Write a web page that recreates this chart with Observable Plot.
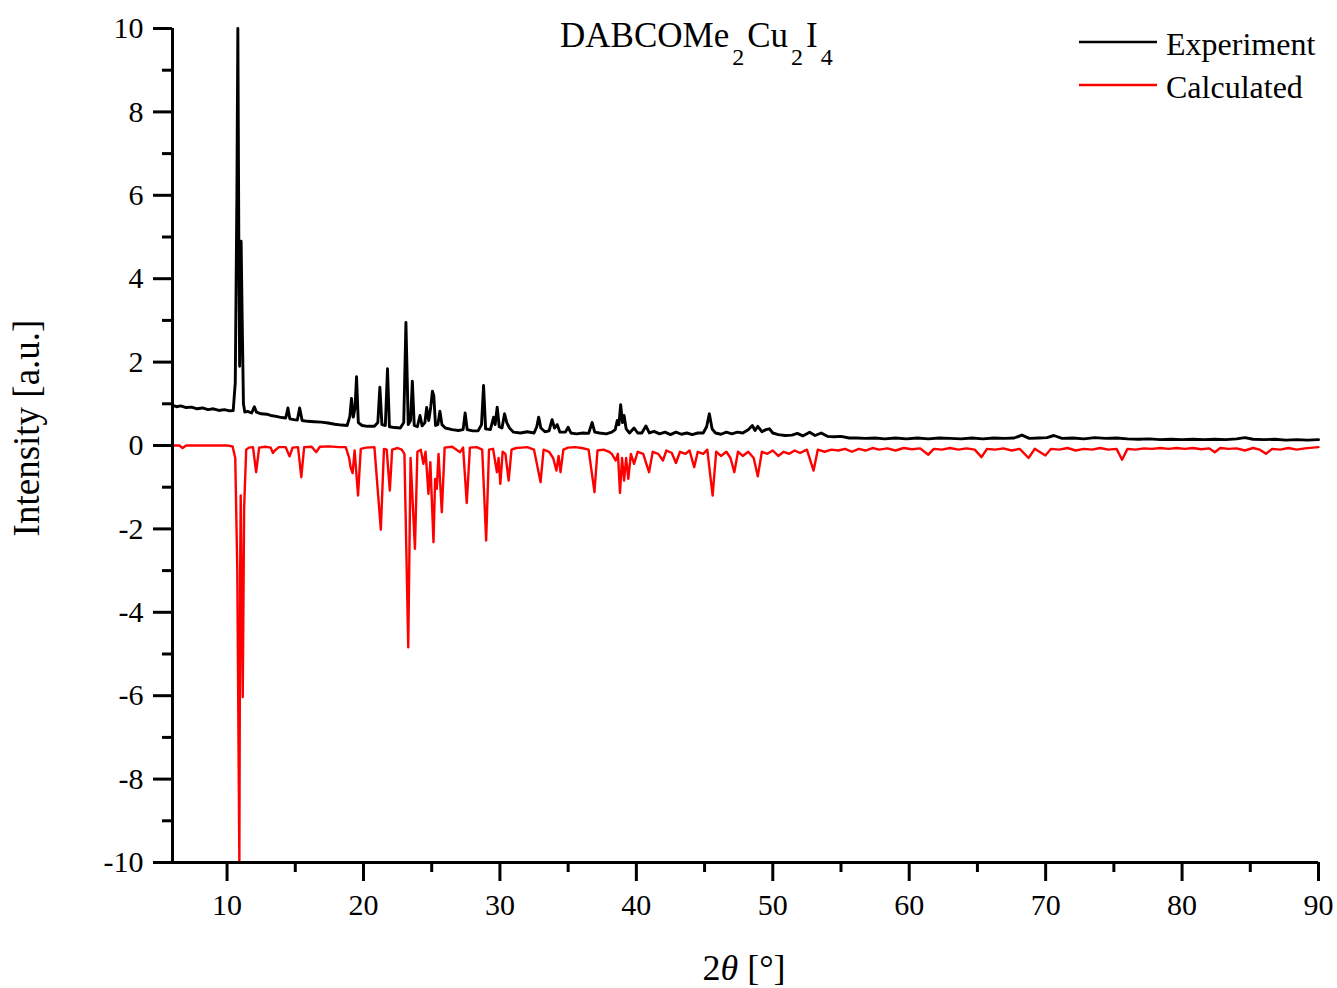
<!DOCTYPE html>
<html><head><meta charset="utf-8">
<script src="https://cdn.jsdelivr.net/npm/d3@7"></script>
<script src="https://cdn.jsdelivr.net/npm/@observablehq/plot@0.6"></script>
<style>
body{margin:0;background:#fff}
svg{font-family:"Liberation Serif","Times New Roman",serif}
</style>
</head><body><div id="chart"></div>
<script>
const experiment = [
[6.0,0.96],[6.3,0.93],[6.6,0.95],[7.0,0.91],[7.4,0.92],[7.8,0.88],[8.2,0.90],[8.6,0.86],[9.0,0.88],[9.4,0.84],
[9.8,0.86],[10.2,0.83],[10.45,0.84],[10.6,1.5],[10.72,6.0],[10.79,10.0],[10.86,5.0],[10.92,1.9],[10.98,3.5],[11.03,4.9],
[11.1,3.2],[11.2,1.0],[11.3,0.80],[11.5,0.82],[11.8,0.78],[12.0,0.93],[12.15,0.80],[12.5,0.76],[12.9,0.75],[13.2,0.72],
[13.6,0.70],[14.0,0.67],[14.3,0.66],[14.46,0.90],[14.6,0.64],[14.9,0.62],[15.15,0.61],[15.32,0.90],[15.5,0.60],[15.9,0.58],
[16.4,0.57],[16.9,0.56],[17.4,0.54],[17.9,0.51],[18.4,0.49],[18.8,0.48],[19.0,0.7],[19.12,1.13],[19.25,0.68],[19.38,0.9],
[19.49,1.65],[19.62,0.55],[19.9,0.48],[20.3,0.46],[20.8,0.46],[21.05,0.55],[21.2,1.40],[21.35,0.50],[21.6,0.48],[21.76,1.84],
[21.9,0.45],[22.3,0.43],[22.7,0.42],[22.95,0.55],[23.11,2.95],[23.28,0.5],[23.45,0.6],[23.58,1.54],[23.72,0.48],[23.95,0.45],
[24.14,0.72],[24.3,0.47],[24.5,0.55],[24.63,0.91],[24.78,0.6],[24.92,0.9],[25.05,1.30],[25.15,1.2],[25.28,0.48],[25.45,0.5],
[25.6,0.82],[25.75,0.5],[26.0,0.42],[26.5,0.38],[26.96,0.36],[27.3,0.38],[27.45,0.78],[27.6,0.38],[28.0,0.35],[28.4,0.35],
[28.65,0.5],[28.8,1.44],[28.95,0.4],[29.3,0.38],[29.54,0.68],[29.65,0.5],[29.8,0.92],[29.95,0.45],[30.15,0.42],[30.34,0.76],
[30.5,0.55],[30.7,0.42],[31.0,0.32],[31.5,0.30],[32.0,0.33],[32.5,0.30],[32.7,0.45],[32.84,0.68],[33.0,0.42],[33.3,0.33],
[33.6,0.35],[33.82,0.62],[34.0,0.42],[34.2,0.50],[34.4,0.32],[34.8,0.32],[35.0,0.44],[35.2,0.30],[35.6,0.28],[36.1,0.30],
[36.5,0.29],[36.76,0.55],[36.95,0.32],[37.3,0.30],[37.8,0.28],[38.2,0.32],[38.45,0.38],[38.6,0.60],[38.72,0.5],[38.85,0.98],
[38.98,0.55],[39.1,0.72],[39.25,0.40],[39.5,0.30],[39.83,0.42],[40.1,0.30],[40.4,0.30],[40.7,0.47],[40.95,0.30],[41.3,0.34],
[41.7,0.28],[42.1,0.32],[42.5,0.26],[42.9,0.32],[43.3,0.27],[43.7,0.30],[44.1,0.26],[44.5,0.30],[44.9,0.30],[45.15,0.45],
[45.35,0.76],[45.55,0.40],[45.8,0.30],[46.2,0.27],[46.6,0.32],[47.0,0.28],[47.4,0.32],[47.8,0.30],[48.2,0.38],[48.5,0.48],
[48.7,0.36],[48.9,0.46],[49.2,0.33],[49.5,0.38],[49.76,0.40],[50.0,0.30],[50.4,0.26],[50.9,0.24],[51.4,0.25],[51.8,0.29],
[52.2,0.23],[52.7,0.32],[53.1,0.24],[53.55,0.30],[54.0,0.22],[54.5,0.21],[55.0,0.22],[55.6,0.18],[56.1,0.18],[56.8,0.17],
[57.5,0.18],[58.2,0.16],[59.0,0.18],[59.8,0.16],[60.6,0.18],[61.4,0.16],[62.2,0.18],[63.0,0.17],[63.8,0.16],[64.6,0.18],
[65.4,0.16],[66.2,0.18],[67.0,0.17],[67.7,0.18],[68.26,0.25],[68.8,0.17],[69.5,0.18],[70.1,0.19],[70.6,0.24],[71.2,0.17],
[72.0,0.18],[72.8,0.16],[73.6,0.19],[74.4,0.17],[75.2,0.18],[76.0,0.16],[76.8,0.15],[77.6,0.16],[78.4,0.14],[79.2,0.15],
[80.0,0.14],[80.8,0.15],[81.6,0.14],[82.4,0.15],[83.2,0.14],[84.0,0.16],[84.6,0.19],[85.2,0.15],[86.0,0.14],[86.8,0.15],
[87.6,0.13],[88.4,0.14],[89.2,0.13],[90.0,0.14]
];
// calculated pattern (plotted inverted)
const calculated = [
[6.0,0.0],[6.5,0.0],[6.74,-0.06],[7.0,0.0],[8.0,0.0],[9.0,0.0],[10.0,0.0],[10.4,-0.02],[10.6,-0.3],[10.75,-3.0],
[10.9,-10.0],[10.96,-3.0],[11.0,-1.2],[11.07,-3.5],[11.15,-6.03],[11.25,-1.5],[11.4,-0.1],[11.6,-0.05],[11.9,-0.04],[12.13,-0.64],
[12.35,-0.05],[12.8,-0.03],[13.2,-0.05],[13.36,-0.18],[13.5,-0.12],[13.8,-0.04],[14.3,-0.04],[14.58,-0.26],[14.8,-0.05],[15.2,-0.04],
[15.44,-0.76],[15.65,-0.04],[16.2,-0.03],[16.54,-0.16],[16.8,-0.03],[17.5,-0.02],[18.2,-0.04],[18.7,-0.04],[18.95,-0.3],[19.05,-0.52],
[19.2,-0.66],[19.35,-0.12],[19.6,-1.2],[19.8,-0.08],[20.2,-0.05],[20.8,-0.04],[21.27,-2.02],[21.5,-0.08],[21.7,-0.1],[21.93,-1.08],
[22.1,-0.1],[22.5,-0.06],[22.8,-0.1],[23.0,-0.2],[23.28,-4.84],[23.45,-0.3],[23.77,-2.48],[23.95,-0.15],[24.2,-0.1],[24.39,-0.44],
[24.55,-0.15],[24.76,-1.16],[24.9,-0.4],[25.13,-2.32],[25.25,-0.8],[25.37,-1.04],[25.5,-0.2],[25.74,-1.6],[25.95,-0.05],[26.5,-0.03],
[27.08,-0.16],[27.3,-0.05],[27.57,-1.38],[27.8,-0.05],[28.3,-0.04],[28.7,-0.1],[28.99,-2.28],[29.2,-0.1],[29.5,-0.08],[29.78,-0.64],
[29.9,-0.3],[30.03,-0.92],[30.2,-0.15],[30.4,-0.2],[30.64,-0.84],[30.85,-0.1],[31.2,-0.06],[31.6,-0.05],[32.0,-0.04],[32.5,-0.1],
[32.98,-0.88],[33.2,-0.1],[33.6,-0.15],[33.9,-0.3],[34.14,-0.6],[34.3,-0.25],[34.44,-0.64],[34.65,-0.1],[35.0,-0.05],[35.5,-0.04],
[36.0,-0.06],[36.5,-0.1],[36.93,-1.12],[37.15,-0.12],[37.6,-0.1],[38.0,-0.15],[38.2,-0.2],[38.48,-0.36],[38.65,-0.2],[38.8,-1.14],
[38.95,-0.3],[39.1,-0.84],[39.25,-0.3],[39.41,-0.80],[39.6,-0.2],[39.83,-0.44],[40.1,-0.15],[40.5,-0.2],[40.93,-0.64],[41.2,-0.15],
[41.6,-0.2],[41.95,-0.36],[42.2,-0.12],[42.6,-0.18],[42.9,-0.42],[43.2,-0.15],[43.6,-0.2],[43.9,-0.12],[44.24,-0.52],[44.5,-0.15],
[44.9,-0.2],[45.2,-0.1],[45.59,-1.2],[45.85,-0.15],[46.2,-0.25],[46.6,-0.15],[46.9,-0.3],[47.18,-0.64],[47.45,-0.15],[47.8,-0.25],
[48.2,-0.15],[48.6,-0.3],[48.9,-0.74],[49.2,-0.15],[49.6,-0.2],[50.0,-0.12],[50.4,-0.25],[50.8,-0.15],[51.2,-0.2],[51.6,-0.12],
[52.0,-0.18],[52.5,-0.1],[52.99,-0.6],[53.3,-0.1],[53.8,-0.15],[54.3,-0.1],[54.8,-0.12],[55.3,-0.08],[55.8,-0.15],[56.3,-0.08],
[56.8,-0.12],[57.3,-0.06],[57.8,-0.1],[58.4,-0.07],[59.0,-0.12],[59.6,-0.06],[60.2,-0.09],[60.8,-0.07],[61.4,-0.22],[61.8,-0.08],
[62.4,-0.1],[63.0,-0.06],[63.6,-0.1],[64.2,-0.07],[64.8,-0.1],[65.3,-0.28],[65.7,-0.08],[66.3,-0.1],[66.9,-0.07],[67.5,-0.12],
[68.1,-0.08],[68.75,-0.3],[69.2,-0.08],[69.98,-0.24],[70.4,-0.08],[71.0,-0.1],[71.6,-0.06],[72.2,-0.12],[72.8,-0.08],[73.4,-0.1],
[74.0,-0.06],[74.6,-0.1],[75.2,-0.08],[75.6,-0.34],[76.0,-0.08],[76.6,-0.1],[77.2,-0.07],[77.8,-0.08],[78.4,-0.06],[79.0,-0.08],
[79.6,-0.06],[80.2,-0.08],[80.8,-0.06],[81.4,-0.09],[82.0,-0.07],[82.4,-0.16],[82.8,-0.06],[83.4,-0.08],[84.0,-0.07],[84.6,-0.12],
[85.2,-0.06],[85.7,-0.1],[86.15,-0.2],[86.6,-0.08],[87.2,-0.1],[87.8,-0.06],[88.4,-0.1],[89.0,-0.07],[89.6,-0.05],[90.0,-0.04]
];
const xMajorTicks = [10,20,30,40,50,60,70,80,90];
const xMinorTicks = [15,25,35,45,55,65,75,85];
const yMajorTicks = [-10,-8,-6,-4,-2,0,2,4,6,8,10];
const yMinorTicks = [-9,-7,-5,-3,-1,1,3,5,7,9];
const seriesNames = ["Experiment","Calculated"];
const seriesColors = ["#000000","#ff0000"];
const xDomain = [6,90];
const yDomain = [-10,10];

const chart = Plot.plot({
  width: 1337, height: 988,
  marginLeft: 172, marginRight: 19, marginTop: 28, marginBottom: 126,
  x: {domain: xDomain},
  y: {domain: yDomain},
  style: {fontFamily: "Liberation Serif", fontSize: "30px", color: "#000", background: "#fff", overflow: "visible"},
  marks: [
    Plot.line(experiment, {x: d => d[0], y: d => d[1], stroke: seriesColors[0], strokeWidth: 2.9}),
    Plot.line(calculated, {x: d => d[0], y: d => d[1], stroke: seriesColors[1], strokeWidth: 2.4}),
    Plot.axisX({ticks: xMajorTicks, tickSize: 19, tickPadding: 12, strokeWidth: 3, label: null, tickFormat: d => String(d)}),
    Plot.axisX({ticks: xMinorTicks, tickSize: 10, strokeWidth: 3, label: null, tickFormat: () => ""}),
    Plot.axisY({ticks: yMajorTicks, tickSize: 19, tickPadding: 10, strokeWidth: 3, label: null, tickFormat: d => String(d)}),
    Plot.axisY({ticks: yMinorTicks, tickSize: 10, strokeWidth: 3, label: null, tickFormat: () => ""}),
    Plot.ruleY([yDomain[0]], {strokeWidth: 3}),
    Plot.ruleX([xDomain[0]], {strokeWidth: 3})
  ]
});
document.getElementById("chart").appendChild(chart);

const svg = d3.select(chart);
// title with subscripts
const title = svg.append("text").attr("x", 560).attr("y", 47).attr("text-anchor", "start")
  .attr("font-size", 35).attr("fill", "#000");
title.append("tspan").text("DABCOMe");
title.append("tspan").attr("font-size", 24).attr("dx", 3).attr("dy", 18).text("2");
title.append("tspan").attr("dx", 3).attr("dy", -18).text("Cu");
title.append("tspan").attr("font-size", 24).attr("dx", 3).attr("dy", 18).text("2");
title.append("tspan").attr("dx", 3).attr("dy", -18).text("I");
title.append("tspan").attr("font-size", 24).attr("dx", 3).attr("dy", 18).text("4");

// axis labels
const xl = svg.append("text").attr("x", 744).attr("y", 980).attr("text-anchor", "middle").attr("font-size", 36).attr("fill", "#000");
xl.append("tspan").text("2");
xl.append("tspan").attr("font-style", "italic").text("θ");
xl.append("tspan").text(" [°]");
svg.append("text").attr("transform", "translate(39,428) rotate(-90)").attr("text-anchor", "middle")
  .attr("font-size", 37).attr("fill", "#000").text("Intensity [a.u.]");

// legend
seriesNames.forEach((name, i) => {
  const y = 42 + i * 43;
  svg.append("line").attr("x1", 1079).attr("x2", 1157).attr("y1", y).attr("y2", y)
    .attr("stroke", seriesColors[i]).attr("stroke-width", 2.4);
  svg.append("text").attr("x", 1166).attr("y", y + 13).attr("text-anchor", "start")
    .attr("font-size", 32).attr("fill", "#000").text(name);
});
</script>
</body></html>
